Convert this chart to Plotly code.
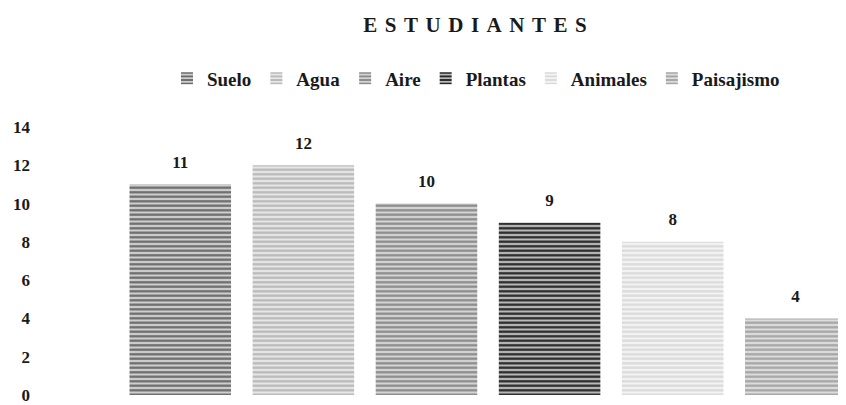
import plotly.graph_objects as go

series = ["Suelo", "Agua", "Aire", "Plantas", "Animales", "Paisajismo"]
values = [11, 12, 10, 9, 8, 4]
category = ["Estudiantes"]
y_ticks = [0, 2, 4, 6, 8, 10, 12, 14]
fg_colors = ["#6a6a6a", "#b9b9b9", "#8a8a8a", "#262626", "#dadada", "#a4a4a4"]
bg_colors = ["#cfcfcf", "#e6e6e6", "#d4d4d4", "#b8b8b8", "#f3f3f3", "#dcdcdc"]

FONT = "Liberation Serif"
TXT = "#1a1a1a"
title_word = "ESTUDIANTES"
spacer = "<span style='font-size:30px'> </span>"
title_text = spacer.join(title_word)

fig = go.Figure()
for name, v, fg, bg in zip(series, values, fg_colors, bg_colors):
    fig.add_trace(go.Bar(
        name=name,
        x=category,
        y=[v],
        text=[f"<span style='font-size:17px'><b>{v}</b></span><br> "],
        textposition="outside",
        cliponaxis=False,
        constraintext="none",
        textfont=dict(family=FONT, size=9, color=TXT),
        marker=dict(
            color=bg,
            line=dict(width=0),
            pattern=dict(shape="-", fgcolor=fg, bgcolor=bg, size=4.5,
                         solidity=0.5, fillmode="replace"),
        ),
    ))

W, H = 838, 397
fig.update_layout(
    width=W, height=H,
    margin=dict(l=23, r=0, t=119, b=8),
    paper_bgcolor="white", plot_bgcolor="white",
    barmode="group", bargap=0.2, bargroupgap=0.175,
    font=dict(family=FONT, color=TXT),
    title=dict(text=f"<b>{title_text}</b>", x=467 / W, y=1 - 17 / H,
               xref="container", yref="container",
               xanchor="center", yanchor="middle",
               font=dict(family=FONT, size=21, color=TXT)),
    legend=dict(orientation="h", x=0.546, y=1.1815, xanchor="center",
                yanchor="middle",
                font=dict(family=FONT, size=19, color=TXT, weight="bold"),
                itemwidth=30, tracegroupgap=0, traceorder="normal"),
    showlegend=True,
)
fig.update_xaxes(range=[-0.4950, 0.3877], showticklabels=False,
                 showgrid=False, zeroline=False, showline=False, ticks="")
fig.update_yaxes(range=[0, 14], tickvals=y_ticks,
                 ticktext=[f"<b>{t}</b>" for t in y_ticks],
                 ticklabeloverflow="allow",
                 showgrid=False, zeroline=False, showline=False,
                 tickfont=dict(family=FONT, size=17, color=TXT))

fig.write_html("out.html")
